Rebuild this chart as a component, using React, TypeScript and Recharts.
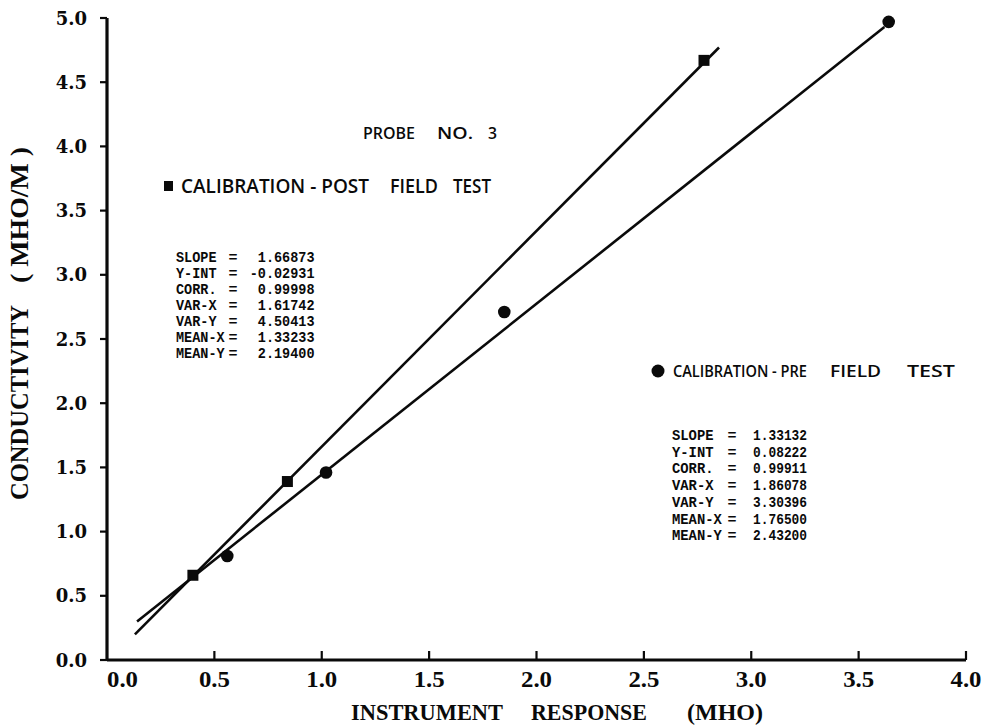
import React from 'react';
import { ScatterChart, Scatter, XAxis, YAxis } from 'recharts';

// ---------- data ----------
const xTicks = [0, 0.5, 1, 1.5, 2, 2.5, 3, 3.5, 4];
const yTicks = [0, 0.5, 1, 1.5, 2, 2.5, 3, 3.5, 4, 4.5, 5];
const xTickLabels = ['0.0', '0.5', '1.0', '1.5', '2.0', '2.5', '3.0', '3.5', '4.0'];
const yTickLabels = ['0.0', '0.5', '1.0', '1.5', '2.0', '2.5', '3.0', '3.5', '4.0', '4.5', '5.0'];

// Calibration - post field test (squares)
const postX = [0.4, 0.84, 2.78];
const postY = [0.66, 1.39, 4.67];
// Calibration - pre field test (circles)
const preX = [0.56, 1.02, 1.85, 3.64];
const preY = [0.81, 1.46, 2.71, 4.97];
// fitted lines (end points)
const postLineX = [0.13, 2.85];
const postLineY = [0.2, 4.77];
const preLineX = [0.14, 3.62];
const preLineY = [0.3, 4.93];

const statLabels = ['SLOPE', 'Y-INT', 'CORR.', 'VAR-X', 'VAR-Y', 'MEAN-X', 'MEAN-Y'];
const postStatValues = ['1.66873', '-0.02931', '0.99998', '1.61742', '4.50413', '1.33233', '2.19400'];
const preStatValues = ['1.33132', '0.08222', '0.99911', '1.86078', '3.30396', '1.76500', '2.43200'];

const titleWords = ['PROBE', 'NO.', '3'];
const postLegendWords = ['CALIBRATION - POST', 'FIELD', 'TEST'];
const preLegendWords = ['CALIBRATION - PRE', 'FIELD', 'TEST'];
const xTitleWords = ['INSTRUMENT', 'RESPONSE', '(MHO)'];
const yTitleWords = ['CONDUCTIVITY', '( MHO/M )'];

const zip = (xs: number[], ys: number[]) => xs.map((x, i) => ({ x, y: ys[i] }));
const postPoints = zip(postX, postY);
const prePoints = zip(preX, preY);
const postLine = zip(postLineX, postLineY);
const preLine = zip(preLineX, preLineY);

// ---------- styling ----------
const INK = '#0a0a0a';
const W = 989;
const H = 727;

const SquareMark = (props: any) => {
  const { cx, cy } = props;
  if (cx == null || cy == null) return <g />;
  return <rect x={cx - 5.5} y={cy - 5.5} width={11} height={11} fill={INK} />;
};
const CircleMark = (props: any) => {
  const { cx, cy } = props;
  if (cx == null || cy == null) return <g />;
  return <circle cx={cx} cy={cy} r={6.3} fill={INK} />;
};
const NoMark = () => <g />;

const XTick = (props: any) => {
  const { x, y, payload } = props;
  const i = xTicks.indexOf(payload.value);
  const label = i >= 0 ? xTickLabels[i] : String(payload.value);
  const isZero = payload.value === 0;
  return (
    <g>
      {!isZero && <line x1={x} y1={y} x2={x} y2={y - 9} stroke={INK} strokeWidth={2.2} />}
      <text
        x={x}
        y={y + 27}
        textAnchor={isZero ? 'start' : 'middle'}
        textLength={31}
        lengthAdjust="spacingAndGlyphs"
        fontFamily="'Liberation Serif', serif"
        fontWeight="bold"
        fontSize={23}
        fill={INK}
      >
        {label}
      </text>
    </g>
  );
};

const YTick = (props: any) => {
  const { x, y, payload } = props;
  const i = yTicks.indexOf(payload.value);
  const label = i >= 0 ? yTickLabels[i] : String(payload.value);
  return (
    <text
      x={x}
      y={y + 6.5}
      textAnchor="end"
      fontFamily="'DejaVu Serif', serif"
      fontWeight="bold"
      fontSize={18}
      fill={INK}
    >
      {label}
    </text>
  );
};

// text laid out word by word, each word stretched over [x0, x1]
const Words = ({
  words,
  spans,
  y,
  size,
  family,
  weight,
}: {
  words: string[];
  spans: number[][];
  y: number;
  size: number;
  family: string;
  weight: any;
}) => (
  <g>
    {words.map((w, i) => (
      <text
        key={i}
        x={spans[i][0]}
        y={y}
        textLength={spans[i][1] - spans[i][0]}
        lengthAdjust="spacingAndGlyphs"
        fontFamily={family}
        fontWeight={weight}
        fontSize={size}
        fill={INK}
      >
        {w}
      </text>
    ))}
  </g>
);

const StatsBlock = ({
  values,
  labelX,
  eqX,
  valueEnd,
  top,
  step,
  labelCharW,
  valueCharW,
}: {
  values: string[];
  labelX: number;
  eqX: number;
  valueEnd: number;
  top: number;
  step: number;
  labelCharW: number;
  valueCharW: number;
}) => (
  <g fontFamily="'Liberation Mono', 'DejaVu Sans Mono', monospace" fontWeight="bold" fontSize={15} fill={INK}>
    {statLabels.map((lab, i) => {
      const by = top + i * step + 5;
      return (
        <g key={lab}>
          <text x={labelX} y={by} textLength={lab.length * labelCharW} lengthAdjust="spacingAndGlyphs">
            {lab}
          </text>
          <text x={eqX} y={by} textAnchor="middle">
            =
          </text>
          <text
            x={valueEnd}
            y={by}
            textAnchor="end"
            textLength={values[i].length * valueCharW}
            lengthAdjust="spacingAndGlyphs"
          >
            {values[i]}
          </text>
        </g>
      );
    })}
  </g>
);

const SANS = "'Open Sans', 'DejaVu Sans', sans-serif";
const SERIF = "'Liberation Serif', serif";

export default function App() {
  return (
    <div style={{ position: 'absolute', left: 0, top: 0, width: W, height: H, background: '#fff' }}>
      <ScatterChart width={W} height={H} margin={{ top: 18, right: 23, bottom: 0, left: 0 }}>
        <XAxis
          type="number"
          dataKey="x"
          domain={[0, 4]}
          ticks={xTicks}
          height={67}
          axisLine={{ stroke: INK, strokeWidth: 3.2 }}
          tickLine={false}
          tickSize={0}
          tickMargin={0}
          tick={<XTick />}
          interval={0}
        />
        <YAxis
          type="number"
          dataKey="y"
          domain={[0, 5]}
          ticks={yTicks}
          width={107}
          axisLine={{ stroke: INK, strokeWidth: 3.2 }}
          tickLine={{ stroke: INK, strokeWidth: 2.2 }}
          tickSize={7}
          tickMargin={13}
          tick={<YTick />}
          interval={0}
        />
        <Scatter
          data={postLine}
          line={{ stroke: INK, strokeWidth: 2.6 }}
          shape={NoMark}
          isAnimationActive={false}
        />
        <Scatter
          data={preLine}
          line={{ stroke: INK, strokeWidth: 2.6 }}
          shape={NoMark}
          isAnimationActive={false}
        />
        <Scatter data={postPoints} shape={SquareMark} isAnimationActive={false} />
        <Scatter data={prePoints} shape={CircleMark} isAnimationActive={false} />
      </ScatterChart>

      <svg
        width={W}
        height={H}
        style={{ position: 'absolute', left: 0, top: 0, pointerEvents: 'none' }}
      >
        {/* PROBE NO. 3 */}
        <Words
          words={titleWords}
          spans={[[363, 415], [437, 473], [488, 497]]}
          y={139}
          size={17}
          family={SANS}
          weight={600}
        />

        {/* post field test legend */}
        <rect x={164} y={181} width={9} height={10} fill={INK} />
        <Words
          words={postLegendWords}
          spans={[[181, 369], [390, 438], [453, 491]]}
          y={193}
          size={20}
          family={SANS}
          weight={600}
        />

        {/* pre field test legend */}
        <circle cx={658} cy={371} r={6.5} fill={INK} />
        <Words
          words={preLegendWords}
          spans={[[673, 807], [830, 881], [907, 955]]}
          y={377}
          size={16}
          family={SANS}
          weight={600}
        />

        <StatsBlock
          values={postStatValues}
          labelX={176}
          eqX={233}
          valueEnd={314.5}
          top={257}
          step={16}
          labelCharW={8.1}
          valueCharW={8.1}
        />
        <StatsBlock
          values={preStatValues}
          labelX={672}
          eqX={732}
          valueEnd={807}
          top={435}
          step={16.7}
          labelCharW={8.3}
          valueCharW={7.7}
        />

        {/* axis titles */}
        <Words
          words={xTitleWords}
          spans={[[351, 503], [531, 647], [687, 763]]}
          y={720}
          size={23}
          family={SERIF}
          weight="bold"
        />
        <g transform="translate(28,500) rotate(-90)">
          <text
            x={0}
            y={0}
            textLength={195}
            lengthAdjust="spacingAndGlyphs"
            fontFamily={SERIF}
            fontWeight="bold"
            fontSize={26}
            fill={INK}
          >
            {yTitleWords[0]}
          </text>
        </g>
        <g transform="translate(28,283) rotate(-90)">
          <text
            x={0}
            y={0}
            textLength={136}
            lengthAdjust="spacingAndGlyphs"
            fontFamily={SERIF}
            fontWeight="bold"
            fontSize={26}
            fill={INK}
            style={{ whiteSpace: 'pre' }}
          >
            {yTitleWords[1]}
          </text>
        </g>
      </svg>
    </div>
  );
}
